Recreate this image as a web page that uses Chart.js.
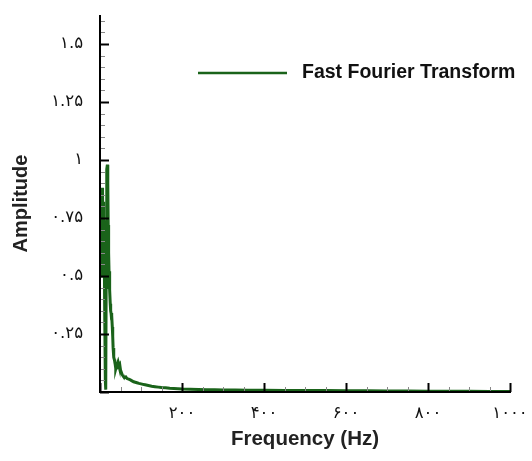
<!DOCTYPE html>
<html lang="en">
<head>
<meta charset="utf-8">
<title>fft</title>
<script src="https://cdn.jsdelivr.net/npm/chart.js@4.4.0/dist/chart.umd.min.js"></script>
<style>
html, body { margin: 0; padding: 0; background: #fff; }
#wrap { width: 532px; height: 461px; }
</style>
</head>
<body>
<div id="wrap"><canvas id="chart"></canvas></div>
<script>
// frequency (Hz) and amplitude
const freqs = [0, 0.5, 1, 1.5, 2, 2.5, 3, 3.5, 4, 4.5, 5, 5.5, 6, 6.5, 7, 7.5, 8, 8.5, 9, 9.5, 10, 10.5, 11, 11.5, 12,
	13, 14, 15, 16, 17, 18, 19, 20, 21, 22,
	23, 24, 25, 26, 27, 28, 29, 30, 31, 32, 33, 34, 35, 36, 37, 38, 39, 40, 42, 44, 46, 48, 50,
	52, 54, 56, 58, 60, 63, 66, 70, 74, 78, 82, 86, 90, 95, 100, 105, 110, 118, 126, 134, 142,
	150, 160, 170, 180, 190, 200, 220, 240, 260, 280, 300, 330, 360, 400, 450, 500, 550, 600,
	650, 700, 750, 800, 850, 900, 950, 1000];
const amps = [0.72, 0.52, 0.84, 0.55, 0.80, 0.50, 0.86, 0.58, 0.82, 0.53, 0.88, 0.56, 0.80, 0.50, 0.85, 0.57, 0.78, 0.52, 0.82, 0.55, 0.74, 0.48, 0.70, 0.45, 0.40,
	0.05, 0.01, 0.45, 0.80, 0.96, 0.98, 0.90, 0.72, 0.60, 0.52,
	0.50, 0.44, 0.38, 0.35, 0.34, 0.31, 0.33, 0.28, 0.24, 0.19, 0.16, 0.15, 0.14, 0.13, 0.12, 0.11, 0.10, 0.11, 0.12, 0.13, 0.115, 0.12, 0.095,
	0.085, 0.075, 0.07, 0.065, 0.062, 0.065, 0.058, 0.055, 0.052, 0.048, 0.044, 0.042, 0.040, 0.037, 0.035, 0.033, 0.031, 0.028, 0.025, 0.023, 0.021,
	0.019, 0.018, 0.016, 0.015, 0.014, 0.013, 0.012, 0.011, 0.010, 0.0095, 0.009, 0.0085, 0.008, 0.0075, 0.007, 0.0065, 0.006, 0.0055,
	0.005, 0.0045, 0.004, 0.0035, 0.003, 0.003, 0.0025, 0.0025];
const xTicks = [200, 400, 600, 800, 1000];
const yTicks = [0.25, 0.5, 0.75, 1, 1.25, 1.5];
const seriesName = 'Fast Fourier Transform';
const lineColor = '#1a631a';

function toFa(s) {
	return String(s).replace(/[0-9]/g, d => '۰۱۲۳۴۵۶۷۸۹'[d]);
}

var points = [];
for (var i = 0; i < freqs.length; i++) {
	points.push({x: freqs[i], y: amps[i]});
}

// axes drawn on top of the line, ticks pointing inward, plus minor ticks
const axesPlugin = {
	id: 'axes',
	afterDatasetsDraw(chart) {
		const ctx = chart.ctx;
		const a = chart.chartArea;
		const xs = chart.scales.x, ys = chart.scales.y;
		ctx.save();
		for (var v = 0; v <= ys.max + 1e-9; v += 0.05) {
			var py = Math.round(ys.getPixelForValue(v)) + 0.5;
			var major = Math.abs(v / 0.25 - Math.round(v / 0.25)) < 1e-6;
			ctx.lineWidth = major ? 2 : 1;
			ctx.strokeStyle = major ? '#000' : '#888';
			ctx.beginPath();
			ctx.moveTo(a.left, py);
			ctx.lineTo(a.left + (major ? 9 : 5), py);
			ctx.stroke();
		}
		for (var f = 0; f <= xs.max + 1e-9; f += 50) {
			var px = Math.round(xs.getPixelForValue(f)) + 0.5;
			var majorX = f % 200 === 0;
			ctx.lineWidth = majorX ? 2 : 1;
			ctx.strokeStyle = majorX ? '#000' : '#888';
			ctx.beginPath();
			ctx.moveTo(px, a.bottom);
			ctx.lineTo(px, a.bottom - (majorX ? 9 : 5));
			ctx.stroke();
		}
		ctx.strokeStyle = '#000';
		ctx.lineWidth = 2;
		ctx.beginPath();
		ctx.moveTo(a.left, a.top);
		ctx.lineTo(a.left, a.bottom);
		ctx.lineTo(a.right + 1, a.bottom);
		ctx.stroke();
		ctx.restore();
	}
};

const legendPlugin = {
	id: 'fftLegend',
	afterDraw(chart) {
		const ctx = chart.ctx;
		const a = chart.chartArea;
		const y = a.top + 58;
		ctx.save();
		ctx.strokeStyle = lineColor;
		ctx.lineWidth = 2.5;
		ctx.beginPath();
		ctx.moveTo(a.left + 98, y);
		ctx.lineTo(a.left + 187, y);
		ctx.stroke();
		ctx.fillStyle = '#111';
		ctx.font = 'bold 19.5px "Liberation Sans", Arial, sans-serif';
		ctx.textBaseline = 'middle';
		ctx.fillText(seriesName, a.left + 202, y);
		ctx.restore();
	}
};

const config = {
	type: 'line',
	data: {
		datasets: [{
			label: seriesName,
			data: points,
			borderColor: lineColor,
			backgroundColor: lineColor,
			borderWidth: 3,
			pointRadius: 0,
			tension: 0,
			fill: false
		}]
	},
	options: {
		responsive: true,
		maintainAspectRatio: false,
		animation: false,
		layout: {padding: {top: 15, right: 22, left: 0, bottom: 0}},
		plugins: {
			legend: {display: false},
			tooltip: {enabled: false}
		},
		scales: {
			x: {
				type: 'linear',
				min: 0,
				max: 1000,
				afterFit: function(scale) {
					scale.height = 69;
					scale.paddingLeft = 0;
					scale.paddingRight = 0;
				},
				afterBuildTicks: function(scale) {
					scale.ticks = [0].concat(xTicks).map(v => ({value: v}));
				},
				grid: {display: false, drawTicks: false},
				border: {display: false},
				ticks: {
					autoSkip: false,
					maxRotation: 0,
					padding: 12,
					color: '#111',
					font: {family: '"DejaVu Sans"', size: 16.5},
					callback: function(v) { return v === 0 ? '' : toFa(v); }
				},
				title: {
					display: true,
					text: 'Frequency (Hz)',
					color: '#222',
					font: {family: '"Liberation Sans", Arial, sans-serif', size: 20.5, weight: 'bold'},
					padding: {top: 0, bottom: 9}
				}
			},
			y: {
				type: 'linear',
				min: 0,
				max: 1.625,
				afterFit: function(scale) {
					scale.width = 100;
					scale.paddingTop = 0;
					scale.paddingBottom = 0;
				},
				afterBuildTicks: function(scale) {
					scale.ticks = [0].concat(yTicks).map(v => ({value: v}));
				},
				grid: {display: false, drawTicks: false},
				border: {display: false},
				ticks: {
					autoSkip: false,
					padding: 17,
					color: '#111',
					font: {family: '"DejaVu Sans"', size: 16.5},
					callback: function(v) { return v === 0 ? '' : toFa(v); }
				},
				title: {
					display: true,
					text: 'Amplitude',
					color: '#222',
					font: {family: '"Liberation Sans", Arial, sans-serif', size: 20, weight: 'bold'},
					padding: {top: 9, bottom: 0}
				}
			}
		}
	},
	plugins: [axesPlugin, legendPlugin]
};

var chart = new Chart(document.getElementById('chart'), config);
</script>
</body>
</html>
